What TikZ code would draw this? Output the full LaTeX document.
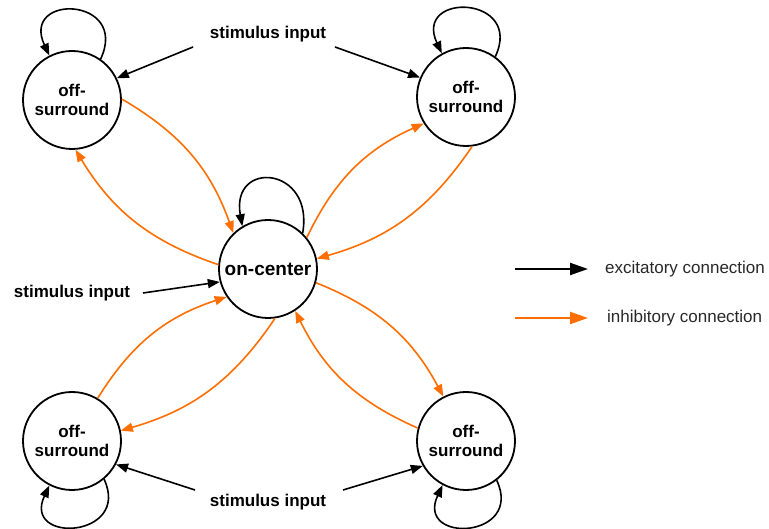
\documentclass[tikz,border=0pt]{standalone}
\usepackage{fontspec}
\setmainfont{Liberation Sans}
\usetikzlibrary{arrows.meta}
\definecolor{inhcol}{RGB}{255,110,0}
\definecolor{txtgray}{RGB}{40,40,40}
\tikzset{
  unit/.style={circle, draw=black, line width=1.8pt, minimum size=98pt, inner sep=0pt,
    align=center, font=\fontsize{17}{19}\selectfont\bfseries},
  stimtext/.style={font=\fontsize{17}{19}\selectfont\bfseries, inner sep=0pt},
  legtext/.style={font=\fontsize{17}{19}\selectfont, text=txtgray, inner sep=0pt, anchor=west},
  exc/.style={draw=black, line width=1.6pt, -{Triangle[length=12pt,width=9pt]}},
  inh/.style={draw=inhcol, line width=1.6pt, -{Triangle[length=12pt,width=9pt]}},
  legexc/.style={draw=black, line width=2pt, -{Triangle[length=18pt,width=12pt]}},
  leginh/.style={draw=inhcol, line width=2pt, -{Triangle[length=18pt,width=12pt]}},
}
\begin{document}
\begin{tikzpicture}[x=1pt,y=1pt]
\useasboundingbox (0,0) rectangle (769,529);
% units
\node[unit] (tl) at (72,429) {off-\\surround};
\node[unit] (tr) at (466,432) {off-\\surround};
\node[unit, font=\fontsize{19}{21}\selectfont\bfseries] (c)  at (268,260) {on-center};
\node[unit] (bl) at (72,88) {off-\\surround};
\node[unit] (br) at (466,88) {off-\\surround};
% stimulus inputs
\node[stimtext] (stimT) at (268,495) {stimulus input};
\node[stimtext] (stimL) at (72,236) {stimulus input};
\node[stimtext] (stimB) at (268,27) {stimulus input};
\coordinate (sTL) at (193,482);
\coordinate (sTR) at (335,482);
\coordinate (sL)  at (143,236);
\coordinate (sBL) at (195,39);
\coordinate (sBR) at (343,39);
\draw[exc] (sTL) -- (tl.26);
\draw[exc] (sTR) -- (tr.157);
\draw[exc] (sL) -- (c.195);
\draw[exc] (sBL) -- (bl.-28);
\draw[exc] (sBR) -- (br.210);
% self loops
\draw[exc] (tl.55) .. controls +(65:69) and +(115:69) .. (tl.117);
\draw[exc] (tr.54) .. controls +(65:68) and +(115:68) .. (tr.119);
\draw[exc] (c.46) .. controls +(80:68) and +(100:68) .. (c.121);
\draw[exc] (bl.-50) .. controls +(-65:65) and +(-115:65) .. (bl.-117);
\draw[exc] (br.-52) .. controls +(-65:65) and +(-115:65) .. (br.-118);
% inhibitory connections
\draw[inh] (tl.1) to[bend left=20] (c.134);
\draw[inh] (c.175) to[bend left=20] (tl.274);
\draw[inh] (c.39) to[bend left=20] (tr.212);
\draw[inh] (tr.277) to[bend left=20] (c.12);
\draw[inh] (c.278) to[bend left=20] (bl.12);
\draw[inh] (bl.59) to[bend left=20] (c.214);
\draw[inh] (c.344) to[bend left=20] (br.117);
\draw[inh] (br.165) to[bend left=20] (c.303);
% legend
\coordinate (le1) at (515,260);
\coordinate (le2) at (588,260);
\coordinate (li1) at (515,211);
\coordinate (li2) at (588,211);
\draw[legexc] (le1) -- (le2);
\draw[leginh] (li1) -- (li2);
\node[legtext] (lexc) at (605,260) {excitatory connection};
\node[legtext] (linh) at (607,211) {inhibitory connection};
\end{tikzpicture}
\end{document}
